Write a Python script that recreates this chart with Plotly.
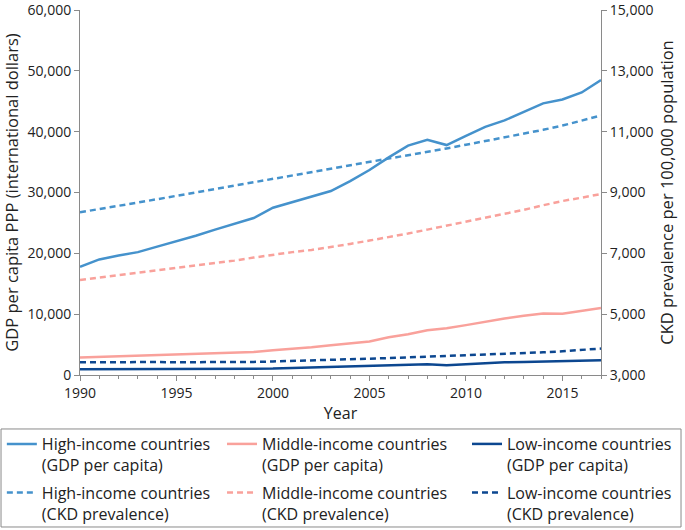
import plotly.graph_objects as go

years = list(range(1990, 2018))

high_gdp = [17800, 19000, 19650, 20200, 21100, 21950, 22900, 23900, 24800, 25800,
            27500, 28450, 29380, 30240, 31870, 33700, 35770, 37700, 38650, 37800,
            39300, 40800, 41850, 43250, 44650, 45300, 46450, 48500]
mid_gdp = [2870, 2980, 3060, 3130, 3230, 3360, 3490, 3620, 3690, 3780,
           4080, 4280, 4550, 4900, 5200, 5500, 6200, 6700, 7350, 7700,
           8200, 8800, 9300, 9750, 10100, 10050, 10500, 11000]
low_gdp = [950, 950, 950, 950, 950, 950, 950, 950, 950, 950,
           1050, 1150, 1250, 1320, 1400, 1480, 1580, 1680, 1760, 1620,
           1800, 2020, 2080, 2150, 2220, 2280, 2350, 2440]

high_ckd = [8350, 8450, 8560, 8670, 8780, 8890, 9000, 9110, 9220, 9340,
            9450, 9560, 9670, 9790, 9900, 10010, 10120, 10230, 10340, 10450,
            10570, 10690, 10810, 10930, 11060, 11200, 11360, 11530]
mid_ckd = [6120, 6200, 6270, 6340, 6420, 6500, 6580, 6660, 6760, 6860,
           6960, 7040, 7110, 7200, 7310, 7420, 7530, 7650, 7780, 7910,
           8030, 8160, 8290, 8430, 8580, 8720, 8830, 8950]
low_ckd = [3420, 3425, 3430, 3430, 3425, 3420, 3420, 3415, 3420, 3430,
           3445, 3460, 3475, 3490, 3510, 3530, 3555, 3580, 3600, 3620,
           3640, 3665, 3690, 3715, 3745, 3780, 3830, 3870]

groups = ["High-income countries", "Middle-income countries", "Low-income countries"]
colors = ["#4592cc", "#f9a19b", "#0c4790"]
gdp_series = [high_gdp, mid_gdp, low_gdp]
ckd_series = [high_ckd, mid_ckd, low_ckd]

x_ticks = [1990, 1995, 2000, 2005, 2010, 2015]
gdp_ticks = [0, 10000, 20000, 30000, 40000, 50000, 60000]
ckd_ticks = [3000, 5000, 7000, 9000, 11000, 13000, 15000]

FONT = "Open Sans"
AXIS_COLOR = "#8a8a8a"
legend_ids = ["legend", "legend2", "legend3"]

fig = go.Figure()

# GDP per capita (linhas cheias, eixo esquerdo)
for name, col, vals, lg in zip(groups, colors, gdp_series, legend_ids):
    fig.add_trace(go.Scatter(
        x=years, y=vals, mode="lines", legend=lg, legendgroup=lg + "gdp",
        name=name + "<br>(GDP per capita)",
        line=dict(color=col, width=2.5),
    ))

# Prevalência de DRC (linhas tracejadas, eixo direito)
for name, col, vals, lg in zip(groups, colors, ckd_series, legend_ids):
    fig.add_trace(go.Scatter(
        x=years, y=vals, mode="lines", yaxis="y2", legend=lg, legendgroup=lg + "ckd",
        name=name + "<br>(CKD prevalence)",
        line=dict(color=col, width=2.5, dash="6px,4px"),
    ))

axis_common = dict(
    showgrid=False, zeroline=False, automargin=False,
    showline=True, linecolor=AXIS_COLOR, linewidth=1,
    ticks="outside", ticklen=5, tickcolor=AXIS_COLOR,
    tickfont=dict(size=14), ticklabeloverflow="allow",
)

# uma legenda por coluna, todas dentro de uma moldura comum
legend_common = dict(
    orientation="v", yanchor="top", y=-0.1425, xanchor="left",
    font=dict(size=16), valign="top", itemwidth=30, tracegroupgap=4,
    bgcolor="rgba(0,0,0,0)", borderwidth=0,
)

fig.update_layout(
    width=685, height=530,
    margin=dict(l=80, r=84, t=10, b=155, autoexpand=False),
    paper_bgcolor="white", plot_bgcolor="white",
    font=dict(family=FONT, size=14, color="#222"),
    xaxis=dict(
        range=[1990, 2017], tickvals=x_ticks,
        minor=dict(dtick=1, ticks="outside", ticklen=3, tickcolor=AXIS_COLOR),
        title=dict(text="Year", standoff=2, font=dict(size=16)),
        **axis_common,
    ),
    yaxis=dict(
        range=[0, 60000], tickvals=gdp_ticks, tickformat=",",
        title=dict(text="GDP per capita PPP (international dollars)", standoff=6,
                   font=dict(size=16.5)),
        **axis_common,
    ),
    yaxis2=dict(
        range=[3000, 15000], tickvals=ckd_ticks, tickformat=",",
        overlaying="y", side="right",
        title=dict(text="CKD prevalence per 100,000 population", standoff=8,
                   font=dict(size=16.5)),
        **axis_common,
    ),
    legend=dict(x=-0.150, **legend_common),
    legend2=dict(x=0.2726, **legend_common),
    legend3=dict(x=0.7428, **legend_common),
    shapes=[dict(
        type="rect", xref="paper", yref="paper",
        x0=-0.1516, x1=1.1536, y0=-0.4164, y1=-0.1479,
        line=dict(color=AXIS_COLOR, width=1), fillcolor="rgba(0,0,0,0)",
        layer="above",
    )],
    showlegend=True,
)

# página sem a margem padrão do body
fig.write_html("out.html", config={"displayModeBar": False},
               post_script="document.body.style.margin='0';")
